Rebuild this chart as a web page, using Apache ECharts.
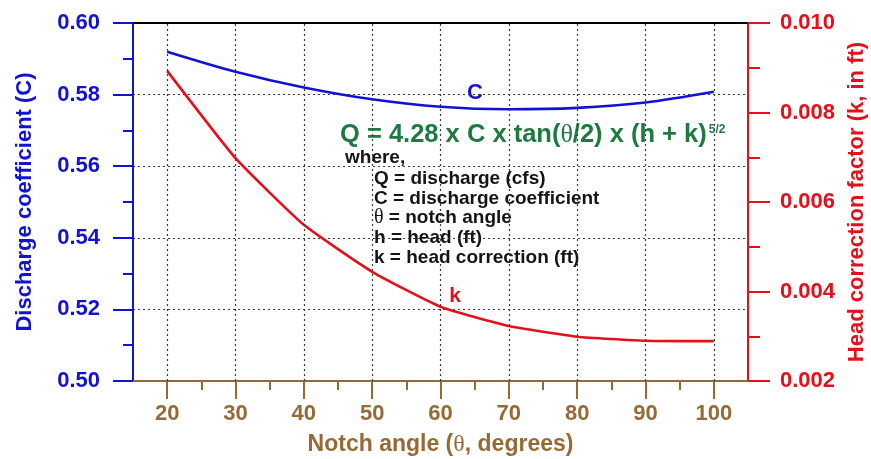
<!DOCTYPE html>
<html>
<head>
<meta charset="utf-8">
<script src="https://cdn.jsdelivr.net/npm/echarts@6/dist/echarts.min.js"></script>
<style>
  html, body { margin: 0; padding: 0; background: #ffffff; }
  #chart { width: 871px; height: 459px; }
</style>
</head>
<body>
<div id="chart"></div>
<script>
// V-notch weir calibration: discharge coefficient C and head correction k vs notch angle
const notchAngles = [20, 30, 40, 50, 60, 70, 80, 90, 100];
const dischargeCoef = [0.5920, 0.5864, 0.5820, 0.5787, 0.5766, 0.5759, 0.5763, 0.5778, 0.5808];
const headCorrection = [0.00893, 0.00698, 0.00549, 0.00444, 0.00366, 0.00323, 0.00299, 0.00290, 0.00289];

const angleTicks = [20, 30, 40, 50, 60, 70, 80, 90, 100];
const angleMinorTicks = [25, 35, 45, 55, 65, 75, 85, 95];

const legendLines = [
  'Q = discharge (cfs)',
  'C = discharge coefficient',
  '{t|θ} = notch angle',
  'h = head (ft)',
  'k = head correction (ft)'
];

const FONT = '"Liberation Sans", Arial, sans-serif';
const SERIF = '"Liberation Serif", "Times New Roman", serif';
const BLUE = '#1212d6';
const RED = '#e5101a';
const BROWN = '#966a34';
const GREEN = '#1f7a40';
const GRID_LINE = { type: [2, 3], color: '#3a3a3a', width: 1.2 };

const chart = echarts.init(document.getElementById('chart'), null, { renderer: 'canvas' });

const pairs = (xs, ys) => xs.map((x, i) => [x, ys[i]]);

const legendGraphics = legendLines.map((line, i) => ({
  type: 'text',
  x: 374,
  y: 178.5 + i * 19.8,
  style: {
    text: line,
    font: 'bold 19px ' + FONT,
    fill: '#141414',
    verticalAlign: 'middle',
    rich: { t: { fontFamily: SERIF, fontSize: 20, fontWeight: 'normal', fill: '#141414' } }
  }
}));

const option = {
  backgroundColor: '#ffffff',
  animation: false,
  grid: { left: 133, right: 123, top: 23, bottom: 78, containLabel: false, outerBoundsMode: 'none' },
  xAxis: [
    {
      type: 'value',
      position: 'bottom',
      min: 15,
      max: 105,
      name: '{a|Notch angle (}{t|θ}{a|, degrees)}',
      nameLocation: 'middle',
      nameGap: 52,
      nameTextStyle: {
        rich: {
          a: { fontFamily: FONT, fontWeight: 'bold', fontSize: 23, color: BROWN },
          t: { fontFamily: SERIF, fontWeight: 'normal', fontSize: 24, color: BROWN }
        }
      },
      axisLine: { show: true, onZero: false, lineStyle: { color: BROWN, width: 2 } },
      axisTick: { show: true, customValues: angleTicks, length: 18, inside: false, lineStyle: { color: BROWN, width: 2 } },
      axisLabel: {
        customValues: angleTicks,
        margin: 22,
        color: BROWN,
        fontFamily: FONT,
        fontWeight: 'bold',
        fontSize: 22
      },
      splitLine: { show: false }
    },
    {
      // top frame line
      type: 'value',
      position: 'top',
      min: 15,
      max: 105,
      axisLine: { show: true, onZero: false, lineStyle: { color: '#000000', width: 2 } },
      axisTick: { show: false },
      axisLabel: { show: false },
      splitLine: { show: false }
    },
    {
      // short ticks halfway between the labelled angles
      type: 'value',
      position: 'bottom',
      min: 15,
      max: 105,
      axisLine: { show: false, onZero: false },
      axisTick: { show: true, customValues: angleMinorTicks, length: 9, lineStyle: { color: BROWN, width: 2 } },
      axisLabel: { show: false },
      splitLine: { show: false }
    }
  ],
  yAxis: [
    {
      type: 'value',
      position: 'left',
      min: 0.50,
      max: 0.60,
      interval: 0.02,
      name: 'Discharge coefficient (C)',
      nameLocation: 'middle',
      nameGap: 97,
      nameRotate: 90,
      nameTextStyle: { color: BLUE, fontFamily: FONT, fontWeight: 'bold', fontSize: 22 },
      axisLine: { show: true, onZero: false, lineStyle: { color: BLUE, width: 2 } },
      axisTick: { show: true, length: 20, lineStyle: { color: BLUE, width: 2 } },
      minorTick: { show: true, splitNumber: 2, length: 10, lineStyle: { color: BLUE, width: 2 } },
      axisLabel: {
        margin: 33,
        color: BLUE,
        fontFamily: FONT,
        fontWeight: 'bold',
        fontSize: 22,
        formatter: v => v.toFixed(2)
      },
      splitLine: { show: true, lineStyle: GRID_LINE },
      minorSplitLine: { show: false }
    },
    {
      type: 'value',
      position: 'right',
      min: 0.002,
      max: 0.010,
      interval: 0.002,
      name: 'Head correction factor (k, in ft)',
      nameLocation: 'middle',
      nameGap: 98,
      nameRotate: 90,
      nameTextStyle: { color: RED, fontFamily: FONT, fontWeight: 'bold', fontSize: 22 },
      axisLine: { show: true, onZero: false, lineStyle: { color: RED, width: 2 } },
      axisTick: { show: true, length: 22, lineStyle: { color: RED, width: 2 } },
      minorTick: { show: true, splitNumber: 2, length: 12, lineStyle: { color: RED, width: 2 } },
      axisLabel: {
        margin: 32,
        color: RED,
        fontFamily: FONT,
        fontWeight: 'bold',
        fontSize: 22,
        formatter: v => v.toFixed(3)
      },
      splitLine: { show: false }
    }
  ],
  series: [
    {
      // dotted vertical grid at each labelled angle
      type: 'line',
      xAxisIndex: 0,
      yAxisIndex: 0,
      data: [],
      silent: true,
      z: 1,
      markLine: {
        silent: true,
        symbol: ['none', 'none'],
        label: { show: false },
        lineStyle: GRID_LINE,
        emphasis: { disabled: true },
        data: angleTicks.map(v => ({ xAxis: v }))
      }
    },
    {
      name: 'C',
      type: 'line',
      xAxisIndex: 0,
      yAxisIndex: 0,
      data: pairs(notchAngles, dischargeCoef),
      smooth: 0.3,
      showSymbol: false,
      symbol: 'none',
      z: 3,
      lineStyle: { color: BLUE, width: 2.6 }
    },
    {
      name: 'k',
      type: 'line',
      xAxisIndex: 0,
      yAxisIndex: 1,
      data: pairs(notchAngles, headCorrection),
      smooth: 0.15,
      showSymbol: false,
      symbol: 'none',
      z: 3,
      lineStyle: { color: RED, width: 2.6 }
    }
  ],
  graphic: [
    {
      type: 'text',
      x: 475,
      y: 93,
      style: { text: 'C', font: 'bold 22px ' + FONT, fill: BLUE, align: 'center', verticalAlign: 'middle' }
    },
    {
      type: 'text',
      x: 455,
      y: 296,
      style: { text: 'k', font: 'bold 21px ' + FONT, fill: RED, align: 'center', verticalAlign: 'middle' }
    },
    {
      type: 'text',
      x: 340,
      y: 135,
      style: {
        text: '{m|Q = 4.28 x C x tan(}{t|θ}{m|/2) x (h + k)}{s|5/2}',
        verticalAlign: 'middle',
        rich: {
          m: { fontFamily: FONT, fontWeight: 'bold', fontSize: 25.5, fill: GREEN },
          t: { fontFamily: SERIF, fontWeight: 'normal', fontSize: 26, fill: GREEN },
          s: { fontFamily: FONT, fontWeight: 'bold', fontSize: 12, fill: GREEN, verticalAlign: 'top', padding: [2, 0, 0, 2] }
        }
      }
    },
    {
      type: 'text',
      x: 345,
      y: 158,
      style: { text: 'where,', font: 'bold 19px ' + FONT, fill: '#141414', verticalAlign: 'middle' }
    }
  ].concat(legendGraphics)
};

chart.setOption(option);
</script>
</body>
</html>
